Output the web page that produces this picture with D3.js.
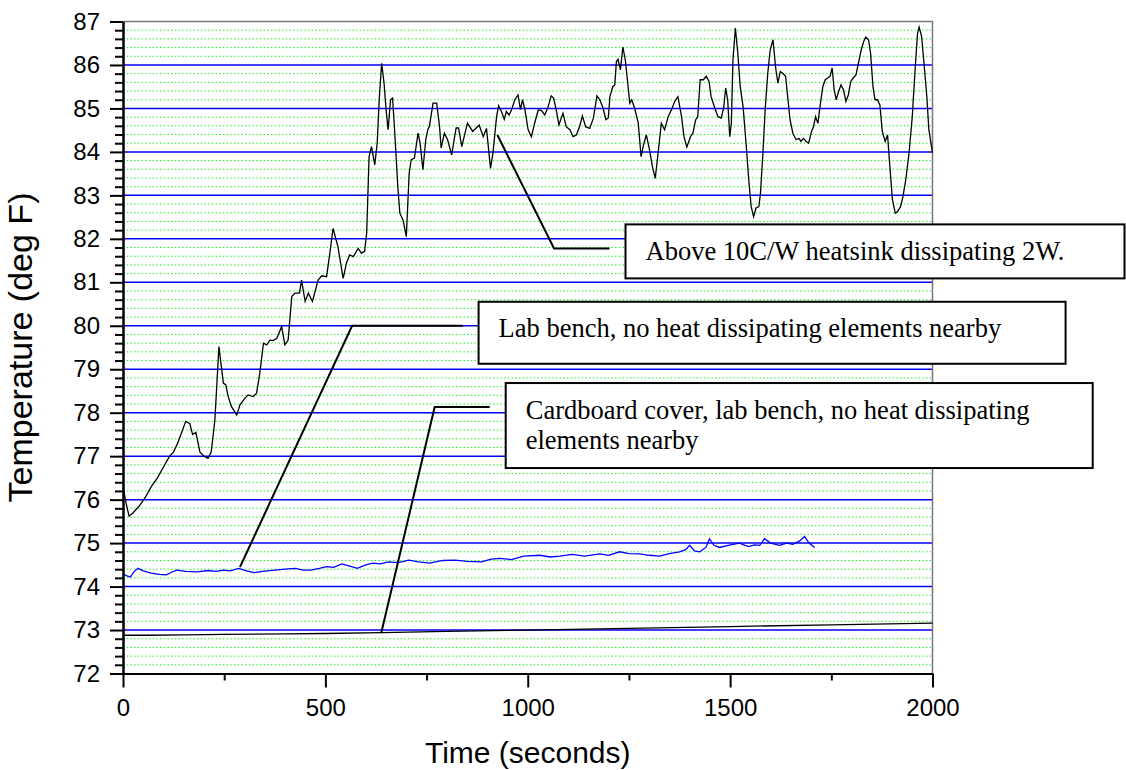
<!DOCTYPE html>
<html>
<head>
<meta charset="utf-8">
<script src="https://cdn.jsdelivr.net/npm/d3@7"></script>
<style>
  body { margin: 0; background: #fff; }
  svg { display: block; }
  .axis text { font-family: Arial, "Liberation Sans", sans-serif; font-size: 24px; fill: #000; }
  .axis path, .axis line { stroke: #000; stroke-width: 2; }
  .title { font-family: Arial, "Liberation Sans", sans-serif; font-size: 30px; fill: #000; }
  .note text { font-family: "Times New Roman", "Liberation Serif", serif; font-size: 26.5px; fill: #000; }
</style>
</head>
<body>
<script>
// ---- data ----
// heatsink run (seconds, deg F)
var heatsinkTime = [0, 8, 15, 25, 40, 55, 70, 85, 100, 115, 125, 135, 145, 155, 165, 172, 180, 190, 200, 210,
  218, 227, 237, 248, 254, 260, 268, 281, 289, 301, 309, 322, 330, 338, 347, 355, 363, 371, 380, 392,
  400, 408, 417, 425, 436, 441, 450, 458, 468, 482, 491, 503, 511, 519, 531, 544, 552, 560, 569, 581,
  589, 597, 602, 608, 614, 622, 628, 633, 639, 645, 650, 655, 661, 666, 671, 679, 684, 692, 700, 707,
  712, 720, 729, 734, 741, 748, 753, 757, 766, 775, 782, 786, 794, 802, 812, 823, 829, 837, 851, 864,
  880, 890, 898, 908, 914, 923, 928, 935, 942, 947, 954, 960, 968, 976, 982, 987, 993, 1001, 1009, 1017,
  1026, 1034, 1042, 1050, 1058, 1064, 1071, 1077, 1087, 1095, 1104, 1112, 1120, 1128, 1135, 1143, 1153, 1162, 1171, 1178,
  1186, 1193, 1199, 1203, 1210, 1215, 1219, 1223, 1229, 1235, 1241, 1248, 1252, 1257, 1264, 1273, 1280, 1286, 1293, 1301,
  1308, 1315, 1322, 1330, 1338, 1347, 1355, 1363, 1371, 1380, 1386, 1393, 1402, 1408, 1415, 1420, 1426, 1434, 1441, 1448,
  1453, 1462, 1470, 1478, 1484, 1489, 1494, 1499, 1503, 1507, 1513, 1519, 1525, 1532, 1540, 1546, 1552, 1558, 1564, 1571,
  1575, 1581, 1587, 1593, 1599, 1606, 1612, 1618, 1624, 1630, 1637, 1643, 1648, 1655, 1663, 1670, 1675, 1681, 1688, 1694,
  1701, 1706, 1711, 1717, 1722, 1729, 1735, 1741, 1747, 1752, 1757, 1762, 1768, 1774, 1780, 1786, 1792, 1798, 1804, 1811,
  1817, 1824, 1830, 1835, 1842, 1847, 1853, 1858, 1864, 1870, 1876, 1883, 1889, 1894, 1901, 1908, 1914, 1921, 1927, 1934,
  1942, 1950, 1957, 1963, 1967, 1973, 1979, 1986, 1991, 2000];
var heatsinkTemp = [76.3, 75.9, 75.62, 75.7, 75.85, 76.05, 76.3, 76.5, 76.75, 77.0, 77.1, 77.3, 77.55, 77.8, 77.75, 77.5, 77.55, 77.1, 77.0, 76.95,
  77.1, 77.83, 79.52, 78.68, 78.64, 78.37, 78.14, 77.95, 78.18, 78.33, 78.41, 78.37, 78.45, 78.91, 79.6, 79.56, 79.67, 79.66, 79.71, 79.98,
  79.56, 79.67, 80.67, 80.75, 80.75, 81.05, 80.56, 80.75, 80.56, 81.05, 81.15, 81.13, 81.67, 82.24, 81.82, 81.09, 81.44, 81.63, 81.59, 81.78,
  81.67, 81.71, 82.13, 83.89, 84.12, 83.7, 84.2, 85.2, 86.04, 85.58, 84.97, 84.51, 85.2, 85.24, 84.51, 83.2, 82.59, 82.43, 82.05, 83.51,
  83.82, 83.86, 84.43, 84.2, 83.59, 84.28, 84.51, 84.59, 85.12, 85.12, 84.59, 84.09, 84.43, 84.28, 83.93, 84.55, 84.55, 84.12, 84.66, 84.47,
  84.62, 84.35, 84.54, 83.62, 83.97, 84.81, 85.06, 84.93, 84.75, 84.93, 84.85, 84.97, 85.2, 85.31, 84.97, 85.2, 84.97, 84.51, 84.35, 84.66,
  84.97, 84.95, 84.85, 85.03, 85.29, 85.24, 84.93, 84.62, 84.89, 84.58, 84.51, 84.35, 84.39, 84.58, 84.83, 84.58, 84.54, 84.77, 85.29, 85.2,
  85.01, 84.74, 84.78, 85.27, 85.5, 85.54, 86.08, 86.13, 85.89, 86.41, 86.12, 85.5, 85.12, 85.2, 85.01, 84.66, 83.89, 84.16, 84.39, 84.04,
  83.66, 83.39, 83.97, 84.66, 84.51, 84.81, 84.97, 85.16, 85.27, 84.81, 84.35, 84.11, 84.35, 84.43, 84.74, 84.81, 85.66, 85.66, 85.74, 85.62,
  85.27, 85.01, 84.81, 84.78, 85.01, 85.47, 85.2, 84.35, 84.66, 86.12, 86.85, 86.27, 85.5, 85.04, 84.12, 83.36, 82.74, 82.51, 82.71, 82.74,
  83.05, 83.97, 85.04, 85.81, 86.35, 86.58, 85.97, 85.58, 85.85, 85.81, 85.74, 85.2, 84.74, 84.43, 84.28, 84.31, 84.24, 84.31, 84.24, 84.2,
  84.47, 84.58, 84.81, 84.66, 85.04, 85.5, 85.66, 85.7, 85.74, 85.93, 85.43, 85.2, 85.39, 85.54, 85.43, 85.16, 85.31, 85.62, 85.7, 85.77,
  86.04, 86.35, 86.54, 86.64, 86.58, 86.27, 85.5, 85.2, 85.2, 85.08, 84.47, 84.24, 84.39, 83.74, 82.9, 82.59, 82.63, 82.74, 82.97, 83.36,
  83.97, 84.81, 85.89, 86.73, 86.87, 86.66, 86.04, 85.27, 84.51, 83.98];

// lab bench run
var benchTime = [0, 8, 18, 28, 37, 50, 69, 90, 107, 120, 133, 155, 184, 210, 230, 248, 265, 286, 305, 324,
  345, 375, 400, 426, 445, 464, 485, 503, 520, 541, 560, 579, 600, 617, 636, 656, 680, 706, 730, 758,
  790, 821, 850, 885, 910, 931, 960, 990, 1030, 1055, 1079, 1110, 1140, 1178, 1200, 1227, 1250, 1276, 1300, 1326,
  1350, 1375, 1390, 1400, 1412, 1425, 1440, 1449, 1460, 1474, 1495, 1523, 1545, 1560, 1573, 1585, 1600, 1622, 1640, 1655,
  1672, 1684, 1695, 1709];
var benchTemp = [74.3, 74.25, 74.22, 74.35, 74.42, 74.36, 74.31, 74.28, 74.27, 74.33, 74.38, 74.35, 74.34, 74.37, 74.35, 74.38, 74.36, 74.42, 74.36, 74.32,
  74.35, 74.38, 74.4, 74.42, 74.38, 74.38, 74.42, 74.46, 74.44, 74.52, 74.47, 74.42, 74.5, 74.54, 74.52, 74.57, 74.55, 74.61, 74.57, 74.54,
  74.6, 74.61, 74.58, 74.57, 74.63, 74.65, 74.62, 74.7, 74.72, 74.68, 74.7, 74.74, 74.7, 74.75, 74.72, 74.8, 74.76, 74.75, 74.72, 74.7,
  74.76, 74.8, 74.85, 74.95, 74.82, 74.8, 74.9, 75.1, 74.95, 74.9, 74.95, 75.0, 74.92, 74.96, 74.95, 75.1, 75.0, 74.95, 75.0, 74.97,
  75.05, 75.15, 75.0, 74.9];

// cardboard cover run
var coverTime = [0, 60, 150, 250, 400, 500, 640, 800, 1000, 1250, 1500, 1750, 2000];
var coverTemp = [72.88, 72.88, 72.89, 72.9, 72.91, 72.92, 72.94, 72.97, 73.0, 73.04, 73.08, 73.12, 73.16];

// axis ticks
var xTicks = [0, 500, 1000, 1500, 2000];
var xMinorTicks = [250, 750, 1250, 1750];
var yTicks = [72, 73, 74, 75, 76, 77, 78, 79, 80, 81, 82, 83, 84, 85, 86, 87];

// callout texts and the leader lines (time, temp) that point at each run
var noteTexts = [
  ["Above 10C/W heatsink dissipating 2W."],
  ["Lab bench, no heat dissipating elements nearby"],
  ["Cardboard cover, lab bench, no heat dissipating", "elements nearby"]
];
var noteLeaders = [
  [[925, 84.39], [1065, 81.78], [1202, 81.78]],
  [[289, 74.45], [566, 80.0], [839, 80.0]],
  [[638, 72.93], [770, 78.13], [906, 78.13]]
];

// ---- layout ----
var width = 1126,
    height = 770,
    margin = { top: 21.5, right: 193.5, bottom: 96.5, left: 123 };

var svg = d3.select('body').append('svg')
    .attr('width', width)
    .attr('height', height);

var w = width - margin.left - margin.right,
    h = height - margin.top - margin.bottom;

var x = d3.scaleLinear().domain([0, 2000]).range([0, w]),
    y = d3.scaleLinear().domain([72, 87]).range([h, 0]);

var g = svg.append('g')
    .attr('transform', 'translate(' + margin.left + ',' + margin.top + ')');

// quarter-degree positions for the dotted grid and the minor ticks
var quarterTicks = y.ticks(60).filter(function(d) { return d % 1 !== 0; });

// minor grid: green dotted
g.append('g').selectAll('line')
  .data(quarterTicks)
  .enter().append('line')
    .attr('x1', 0).attr('x2', w)
    .attr('y1', function(d) { return y(d); })
    .attr('y2', function(d) { return y(d); })
    .attr('stroke', '#22ee22')
    .attr('stroke-width', 1)
    .attr('stroke-dasharray', '1.5,2.2');

// major grid: blue solid at each degree
g.append('g').selectAll('line')
  .data(yTicks.filter(function(d) { return d > 72 && d < 87; }))
  .enter().append('line')
    .attr('x1', 0).attr('x2', w)
    .attr('y1', function(d) { return y(d); })
    .attr('y2', function(d) { return y(d); })
    .attr('stroke', '#0000ee')
    .attr('stroke-width', 1.5);

// top and right frame
g.append('path')
  .attr('d', 'M0,0H' + w + 'V' + h)
  .attr('fill', 'none')
  .attr('stroke', '#777')
  .attr('stroke-width', 1.5);

// the three runs
function series(times, temps) {
  return times.map(function(t, i) { return [t, temps[i]]; });
}
var line = d3.line()
  .x(function(d) { return x(d[0]); })
  .y(function(d) { return y(d[1]); });

g.append('path')
  .datum(series(coverTime, coverTemp))
  .attr('d', line)
  .attr('fill', 'none')
  .attr('stroke', '#000')
  .attr('stroke-width', 1.3);

g.append('path')
  .datum(series(benchTime, benchTemp))
  .attr('d', line)
  .attr('fill', 'none')
  .attr('stroke', '#0000ff')
  .attr('stroke-width', 1.3);

g.append('path')
  .datum(series(heatsinkTime, heatsinkTemp))
  .attr('d', line)
  .attr('fill', 'none')
  .attr('stroke', '#000')
  .attr('stroke-width', 1.3);

// axes, minor ticks first then the labelled majors
g.append('g')
  .attr('class', 'axis')
  .call(d3.axisLeft(y).tickValues(quarterTicks).tickSize(8).tickSizeOuter(0).tickFormat(''));

g.append('g')
  .attr('class', 'axis')
  .call(d3.axisLeft(y).tickValues(yTicks).tickSize(13).tickPadding(10).tickSizeOuter(0));

g.append('g')
  .attr('class', 'axis')
  .attr('transform', 'translate(0,' + h + ')')
  .call(d3.axisBottom(x).tickValues(xMinorTicks).tickSize(7).tickSizeOuter(0).tickFormat(''));

g.append('g')
  .attr('class', 'axis')
  .attr('transform', 'translate(0,' + h + ')')
  .call(d3.axisBottom(x).tickValues(xTicks).tickSize(14).tickPadding(11).tickSizeOuter(0)
    .tickFormat(d3.format('d')));

// axis titles
svg.append('text')
  .attr('class', 'title')
  .attr('x', margin.left + w / 2)
  .attr('y', 763)
  .attr('text-anchor', 'middle')
  .text('Time (seconds)');

svg.append('text')
  .attr('class', 'title')
  .attr('transform', 'translate(32,' + (margin.top + h / 2) + ') rotate(-90)')
  .attr('text-anchor', 'middle')
  .style('font-size', '34px')
  .text('Temperature (deg F)');

// callouts: leader line, then a white box placed off the leader's end
var boxSizes = [[499, 54], [587, 62], [587, 85]];

var notes = g.selectAll('.note')
  .data(noteTexts)
  .enter().append('g')
    .attr('class', 'note');

notes.append('path')
  .attr('d', function(d, i) {
    return d3.line()(noteLeaders[i].map(function(p) { return [x(p[0]), y(p[1])]; }));
  })
  .attr('fill', 'none')
  .attr('stroke', '#000')
  .attr('stroke-width', 2);

notes.each(function(lines, i) {
  var end = noteLeaders[i][noteLeaders[i].length - 1];
  var bx = x(end[0]) + 16,
      by = y(end[1]) - 24;
  var box = d3.select(this).append('g')
    .attr('transform', 'translate(' + bx + ',' + by + ')');
  box.append('rect')
    .attr('width', boxSizes[i][0])
    .attr('height', boxSizes[i][1])
    .attr('fill', '#fff')
    .attr('stroke', '#000')
    .attr('stroke-width', 2);
  box.selectAll('text')
    .data(lines)
    .enter().append('text')
      .attr('x', 20)
      .attr('y', function(d, j) { return 35.5 + j * 30; })
      .text(function(d) { return d; });
});
</script>
</body>
</html>
